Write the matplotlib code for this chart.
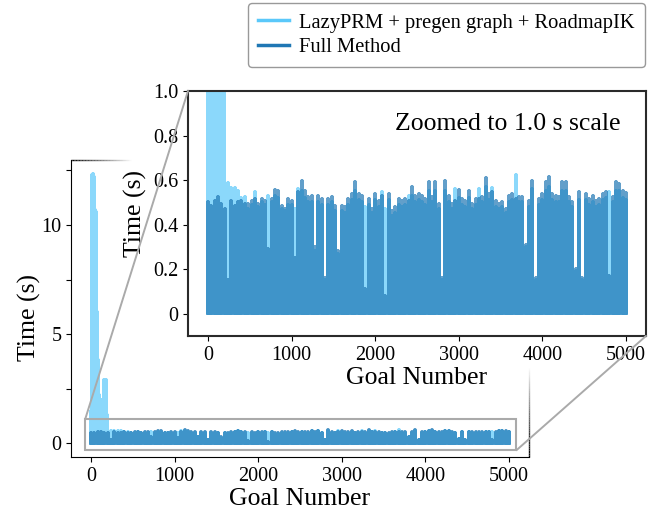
import matplotlib
matplotlib.use("Agg")
import matplotlib.pyplot as plt
import numpy as np
from matplotlib.patches import Rectangle, ConnectionPatch
from matplotlib.collections import LineCollection

plt.rcParams['font.family'] = ['Liberation Serif', 'DejaVu Serif']

# solve time per goal, peaks (s)
# Full Method: one value every 40 goals, 0..5000
full_peak = [
    0.500, 0.485, 0.507, 0.525, 0.493, 0.470, 0.150, 0.507, 0.485, 0.500,
    0.507, 0.493, 0.493, 0.507, 0.515, 0.493, 0.515, 0.507, 0.290, 0.515,
    0.555, 0.552, 0.485, 0.470, 0.515, 0.507, 0.250, 0.545, 0.597, 0.552,
    0.522, 0.530, 0.300, 0.530, 0.515, 0.160, 0.515, 0.522, 0.485, 0.280,
    0.485, 0.478, 0.515, 0.537, 0.590, 0.537, 0.530, 0.110, 0.515, 0.470,
    0.537, 0.507, 0.530, 0.080, 0.537, 0.463, 0.478, 0.515, 0.507, 0.515,
    0.507, 0.567, 0.530, 0.537, 0.530, 0.515, 0.590, 0.522, 0.590, 0.493,
    0.160, 0.597, 0.530, 0.493, 0.507, 0.555, 0.515, 0.507, 0.552, 0.493,
    0.515, 0.515, 0.522, 0.609, 0.537, 0.545, 0.507, 0.493, 0.500, 0.470,
    0.530, 0.537, 0.515, 0.522, 0.522, 0.310, 0.507, 0.597, 0.160, 0.515,
    0.537, 0.590, 0.612, 0.537, 0.530, 0.522, 0.590, 0.590, 0.522, 0.500,
    0.200, 0.545, 0.160, 0.537, 0.515, 0.530, 0.507, 0.515, 0.537, 0.545,
    0.170, 0.522, 0.590, 0.582, 0.552, 0.540,
]
full_goal = np.arange(len(full_peak)) * 40

# LazyPRM + pregen graph + RoadmapIK: first 200 goals every 10, then every 40
lazy_early = [
    1.5, 12.3, 12.35, 12.2, 11.5, 10.7, 10.6, 6.0, 3.8, 2.2,
    2.1, 2.0, 1.9, 2.0, 1.7, 1.8, 2.9, 2.8, 2.9, 1.3,
]
lazy_rest = [
    0.450, 0.585, 0.565, 0.565, 0.550, 0.520, 0.525, 0.470, 0.490, 0.545,
    0.480, 0.500, 0.490, 0.530, 0.500, 0.530, 0.520, 0.470, 0.460, 0.490,
    0.490, 0.470, 0.560, 0.550, 0.520, 0.500, 0.500, 0.280, 0.500, 0.490,
    0.150, 0.490, 0.500, 0.460, 0.270, 0.460, 0.450, 0.490, 0.510, 0.550,
    0.510, 0.500, 0.480, 0.490, 0.450, 0.510, 0.480, 0.545, 0.470, 0.510,
    0.440, 0.450, 0.490, 0.480, 0.490, 0.530, 0.530, 0.500, 0.510, 0.500,
    0.490, 0.550, 0.500, 0.550, 0.470, 0.150, 0.550, 0.500, 0.470, 0.560,
    0.520, 0.490, 0.480, 0.520, 0.470, 0.490, 0.560, 0.500, 0.570, 0.510,
    0.565, 0.480, 0.470, 0.480, 0.450, 0.500, 0.510, 0.622, 0.500, 0.500,
    0.300, 0.480, 0.560, 0.150, 0.490, 0.510, 0.550, 0.570, 0.510, 0.500,
    0.500, 0.550, 0.550, 0.500, 0.480, 0.190, 0.510, 0.150, 0.510, 0.490,
    0.500, 0.480, 0.490, 0.510, 0.520, 0.545, 0.500, 0.550, 0.550, 0.520,
    0.510,
]
lazy_goal = np.concatenate([np.arange(len(lazy_early)) * 10,
                            200 + np.arange(len(lazy_rest)) * 40])
lazy_peak = np.array(lazy_early + lazy_rest)

min_time = 0.005  # fastest solves sit right on the axis

labels = ['LazyPRM + pregen graph + RoadmapIK', 'Full Method']
c_lazy = '#5AC8FA'
c_full = '#1F77B4'


def trace(goals, peaks):
    # each goal: a stroke from its fastest solve up to its slowest and back
    n = len(peaks)
    xs = np.repeat(goals, 3)
    ys = np.column_stack([np.full(n, min_time), peaks,
                          np.full(n, min_time)]).ravel()
    return xs, ys


fig = plt.figure(figsize=(6.53, 5.18), dpi=100)
ax = fig.add_axes([0.1087, 0.1178, 0.7014, 0.5734])
axins = fig.add_axes([0.2879, 0.3514, 0.7014, 0.4730])

handles = []
for a in (ax, axins):
    lx, ly = trace(lazy_goal, lazy_peak)
    fx, fy = trace(full_goal, np.array(full_peak))
    h1, = a.plot(lx, ly, color=c_lazy, alpha=0.7, lw=2.6)
    h2, = a.plot(fx, fy, color=c_full, alpha=0.7, lw=2.6)
    if not handles:
        handles = [h1, h2]
    a.set_xlim(-240, 5240)
    a.set_xticks([0, 1000, 2000, 3000, 4000, 5000])
    a.tick_params(labelsize=14.5)
    a.set_xlabel('Goal Number', fontsize=18.5, labelpad=2)
    a.set_ylabel('Time (s)', fontsize=18.5)

# main axes
ax.set_ylim(-0.62, 12.97)
ax.set_yticks([0, 5, 10])
ax.set_yticks([2.5, 7.5, 12.5], minor=True)
ax.tick_params(which='minor', length=3.5, width=0.8)
ax.set_yticklabels(['0', '5', '10'])
ax.spines['top'].set_visible(False)
ax.spines['right'].set_visible(False)
ax.yaxis.set_label_coords(-0.065, 0.47)

# fading top/right edges of the main frame
n = 40
t = np.linspace(0, 1, n + 1)
top_segs = [[(0.13 * t[k], 1), (0.13 * t[k + 1], 1)] for k in range(n)]
right_segs = [[(1, 0.30 * t[k]), (1, 0.30 * t[k + 1])] for k in range(n)]
fade = [(0, 0, 0, 1 - k / n) for k in range(n)]
for segs in (top_segs, right_segs):
    lc = LineCollection(segs, colors=fade, linewidths=1.0,
                        transform=ax.transAxes, clip_on=False)
    ax.add_collection(lc)

ax.add_patch(Rectangle((-70, -0.31), 5160, 1.42, fill=False,
                       ec='#aaaaaa', lw=1.5, zorder=4))

# inset
axins.set_ylim(-0.1, 1.0)
axins.set_yticks([0, 0.2, 0.4, 0.6, 0.8, 1.0])
axins.set_yticklabels(['0', '0.2', '0.4', '0.6', '0.8', '1.0'])
for s in axins.spines.values():
    s.set_linewidth(1.5)
    s.set_color('#2a2a2a')
axins.text(0.945, 0.865, 'Zoomed to 1.0 s scale', transform=axins.transAxes,
           ha='right', va='center', fontsize=18.5)

for xyA, xyB in [((-70, 1.11), (0, 1)), ((5090, -0.31), (1, 0))]:
    con = ConnectionPatch(xyA=xyA, coordsA=ax.transData,
                          xyB=xyB, coordsB=axins.transAxes,
                          color='#aaaaaa', lw=1.4)
    fig.add_artist(con)

leg = fig.legend(handles, labels, loc='upper right',
                 bbox_to_anchor=(645 / 653, 1 - 3 / 518), borderaxespad=0,
                 fontsize=14.8, handlelength=1.5, handletextpad=0.5,
                 labelspacing=0.25, borderpad=0.5, edgecolor='0.6',
                 framealpha=1)
for h in leg.legend_handles:
    h.set_alpha(1)
    h.set_linewidth(2.5)

fig.savefig('out.png', dpi=100)
